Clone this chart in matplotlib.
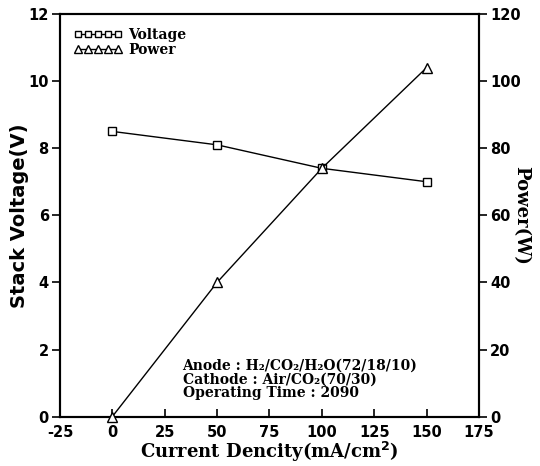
import matplotlib
matplotlib.use("Agg")
import matplotlib.pyplot as plt

current = [0, 50, 100, 150]
voltage = [8.5, 8.1, 7.4, 7.0]
power = [0, 40, 74, 104]

x_ticks = [-25, 0, 25, 50, 75, 100, 125, 150, 175]
v_ticks = [0, 2, 4, 6, 8, 10, 12]
p_ticks = [0, 20, 40, 60, 80, 100, 120]

fig = plt.figure(figsize=(5.4, 4.66), dpi=100)
ax = fig.add_axes([0.111, 0.106, 0.776, 0.864])
ax2 = ax.twinx()

lv, = ax.plot(current, voltage, color='black', lw=1.0, marker='s', ms=6,
              mfc='white', mec='black', mew=1.0, label='Voltage', clip_on=False, zorder=3)
lp, = ax2.plot(current, power, color='black', lw=1.0, marker='^', ms=7,
               mfc='white', mec='black', mew=1.0, label='Power', clip_on=False, zorder=3)

ax.set_xlim(-25, 175)
ax.set_ylim(0, 12)
ax2.set_ylim(0, 120)
ax.set_xticks(x_ticks)
ax.set_yticks(v_ticks)
ax2.set_yticks(p_ticks)

tickfont = dict(family='DejaVu Sans', weight='bold', size=10.5)
ax.set_xticklabels([str(t) for t in x_ticks], **tickfont)
ax.set_yticklabels([str(t) for t in v_ticks], **tickfont)
ax2.set_yticklabels([str(t) for t in p_ticks], **tickfont)

ax.tick_params(axis='x', direction='in', length=6, width=1.2, pad=6)
ax.tick_params(axis='y', direction='out', length=6, width=1.2, pad=2)
ax2.tick_params(axis='y', direction='out', length=6, width=1.2, pad=2)
for a in (ax, ax2):
    for s in a.spines.values():
        s.set_linewidth(1.5)

ax.set_xlabel('Current Dencity(mA/cm$^{\\mathbf{2}}$)', labelpad=0,
              family='DejaVu Serif', weight='bold', size=13)
ax.set_ylabel('Stack Voltage(V)', family='DejaVu Sans', weight='bold', size=14)
ax.yaxis.set_label_coords(-0.075, 0.5)
ax2.set_ylabel('Power(W)', rotation=270, va='center',
               family='DejaVu Serif', weight='bold', size=13)
ax2.yaxis.set_label_coords(1.1, 0.5)

leg = ax.legend(handles=[lv, lp], loc='upper left', numpoints=5, frameon=False,
                prop=dict(family='DejaVu Serif', weight='bold', size=10),
                handlelength=3.5, handletextpad=0.4, borderaxespad=0.6,
                labelspacing=0.05, markerscale=0.8)

ax.text(33.5, 0.5, 'Anode : H\u2082/CO\u2082/H\u2082O(72/18/10)\nCathode : Air/CO\u2082(70/30)\nOperating Time : 2090',
        family='DejaVu Serif', weight='bold', size=10, linespacing=0.95,
        va='bottom', ha='left')

fig.savefig('out.png', dpi=100)
